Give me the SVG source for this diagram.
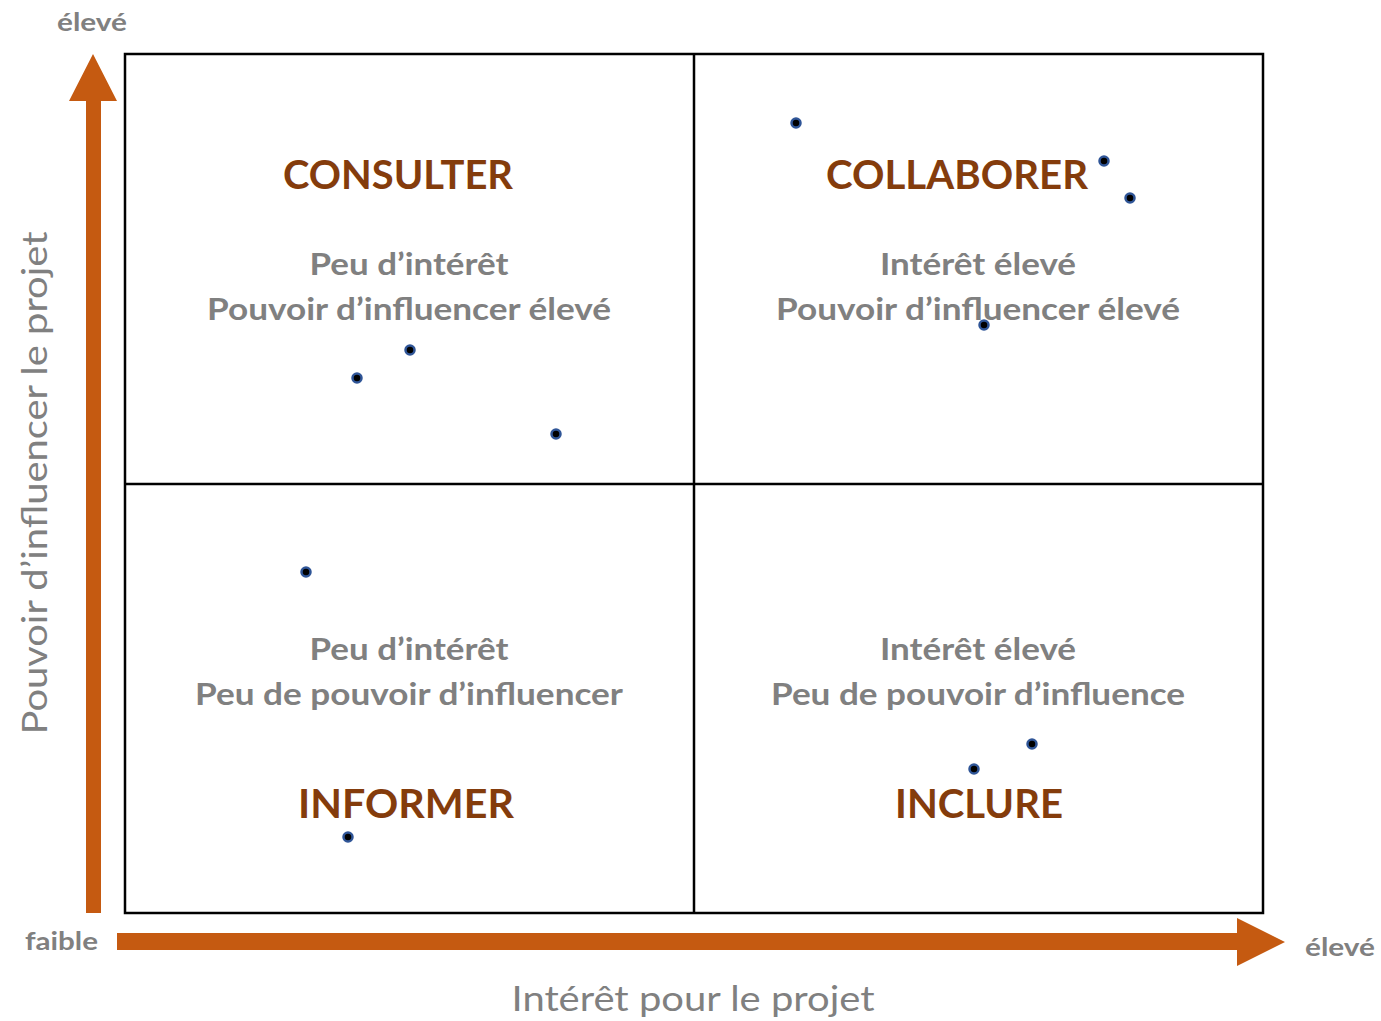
<svg xmlns="http://www.w3.org/2000/svg" width="1381" height="1021" viewBox="0 0 1381 1021">
<style>
.title{font-family:Lato,"Open Sans","Liberation Sans",sans-serif;font-weight:bold;font-size:41px;fill:#843C0C;text-anchor:middle}
.desc{font-family:Lato,"Open Sans","Liberation Sans",sans-serif;font-weight:bold;font-size:31px;fill:#808080;text-anchor:middle}
.lvl{font-family:Lato,"Open Sans","Liberation Sans",sans-serif;font-weight:bold;font-size:24px;fill:#808080}
.axis{font-family:Lato,"Open Sans","Liberation Sans",sans-serif;font-size:35px;fill:#808080;text-anchor:middle}
.dot{fill:#000;stroke:#2F5597;stroke-width:2.5}
.grid{fill:none;stroke:#000;stroke-width:2.5}
.arrow{fill:#C55A11}
</style>
<rect width="1381" height="1021" fill="#fff"/>
<g id="grid">
<rect class="grid" x="125" y="54" width="1138" height="859"/>
<line class="grid" x1="694" y1="54" x2="694" y2="913"/>
<line class="grid" x1="125" y1="484" x2="1263" y2="484"/>
</g>
<g id="axes">
<polygon class="arrow" points="86,913 86,101 69,101 93,54 117,101 101,101 101,913"/>
<polygon class="arrow" points="117,933 1237,933 1237,918 1285,942 1237,966 1237,950 117,950"/>
<text class="lvl" x="57" y="31" textLength="70" lengthAdjust="spacingAndGlyphs">élevé</text>
<text class="lvl" x="25" y="950" textLength="73" lengthAdjust="spacingAndGlyphs">faible</text>
<text class="lvl" x="1305" y="956" textLength="70" lengthAdjust="spacingAndGlyphs">élevé</text>
<text class="axis" x="693" y="1011" textLength="363" lengthAdjust="spacingAndGlyphs">Intérêt pour le projet</text>
<text class="axis" transform="translate(47,483) rotate(-90)" x="0" y="0" textLength="503" lengthAdjust="spacingAndGlyphs">Pouvoir d’influencer le projet</text>
</g>
<g id="consulter">
<text class="title" x="398" y="189" textLength="230" lengthAdjust="spacingAndGlyphs">CONSULTER</text>
<text class="desc" x="409" y="275" textLength="199" lengthAdjust="spacingAndGlyphs">Peu d’intérêt</text>
<text class="desc" x="409" y="320" textLength="404" lengthAdjust="spacingAndGlyphs">Pouvoir d’influencer élevé</text>
</g>
<g id="collaborer">
<text class="title" x="957" y="189" textLength="262" lengthAdjust="spacingAndGlyphs">COLLABORER</text>
<text class="desc" x="978" y="275" textLength="196" lengthAdjust="spacingAndGlyphs">Intérêt élevé</text>
<text class="desc" x="978" y="320" textLength="404" lengthAdjust="spacingAndGlyphs">Pouvoir d’influencer élevé</text>
</g>
<g id="informer">
<text class="desc" x="409" y="660" textLength="199" lengthAdjust="spacingAndGlyphs">Peu d’intérêt</text>
<text class="desc" x="409" y="705" textLength="428" lengthAdjust="spacingAndGlyphs">Peu de pouvoir d’influencer</text>
<text class="title" x="406" y="818" textLength="216" lengthAdjust="spacingAndGlyphs">INFORMER</text>
</g>
<g id="inclure">
<text class="desc" x="978" y="660" textLength="196" lengthAdjust="spacingAndGlyphs">Intérêt élevé</text>
<text class="desc" x="978" y="705" textLength="414" lengthAdjust="spacingAndGlyphs">Peu de pouvoir d’influence</text>
<text class="title" x="979" y="818" textLength="168" lengthAdjust="spacingAndGlyphs">INCLURE</text>
</g>
<g id="points">
<circle class="dot" cx="796" cy="123" r="4.5"/>
<circle class="dot" cx="1104" cy="161" r="4.5"/>
<circle class="dot" cx="1130" cy="198" r="4.5"/>
<circle class="dot" cx="984" cy="325" r="4.5"/>
<circle class="dot" cx="410" cy="350" r="4.5"/>
<circle class="dot" cx="357" cy="378" r="4.5"/>
<circle class="dot" cx="556" cy="434" r="4.5"/>
<circle class="dot" cx="306" cy="572" r="4.5"/>
<circle class="dot" cx="348" cy="837" r="4.5"/>
<circle class="dot" cx="1032" cy="744" r="4.5"/>
<circle class="dot" cx="974" cy="769" r="4.5"/>
</g>
</svg>
